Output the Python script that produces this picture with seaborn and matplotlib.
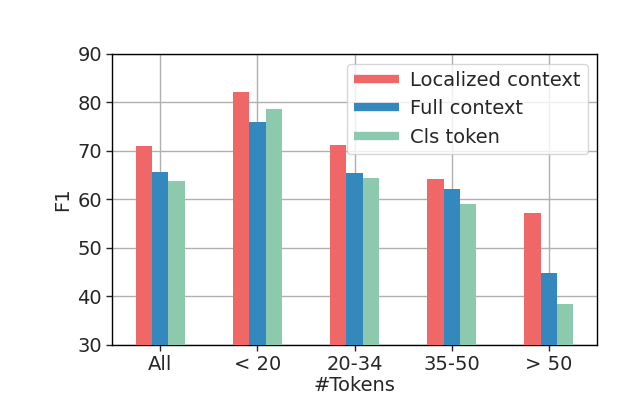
import matplotlib
matplotlib.use("Agg")
import matplotlib.pyplot as plt
from matplotlib.lines import Line2D
import seaborn as sns
import pandas as pd

categories = ["All", "< 20", "20-34", "35-50", "> 50"]
series_names = ["Localized context", "Full context", "Cls token"]
localized = [71.1, 82.2, 71.3, 64.3, 57.3]
full = [65.7, 76.0, 65.5, 62.2, 44.9]
cls_token = [63.9, 78.7, 64.5, 59.1, 38.5]
colors = ["#F06767", "#3388BD", "#8DC9AC"]

rows = []
for name, vals in zip(series_names, [localized, full, cls_token]):
    for c, v in zip(categories, vals):
        rows.append({"cat": c, "series": name, "F1": v})
df = pd.DataFrame(rows)

sns.set_style("white")
plt.rcParams["font.family"] = ["DejaVu Sans"]

fig = plt.figure(figsize=(6.32, 3.97), dpi=100)
ax = fig.add_axes([0.177, 0.131, 0.768, 0.733])
sns.barplot(data=df, x="cat", y="F1", hue="series", order=categories,
            hue_order=series_names, palette=colors, width=0.5, gap=0,
            saturation=1, linewidth=0, edgecolor="none", ax=ax, zorder=3,
            legend=False)
ax.set_ylim(30, 90)
ax.set_xlim(-0.5, 4.5)
ax.set_yticks([30, 40, 50, 60, 70, 80, 90])
ax.grid(True, color="#b0b0b0", linewidth=1, zorder=0)
ax.set_axisbelow(True)
ax.set_xlabel("#Tokens", fontsize=14, labelpad=2)
ax.set_ylabel("F1", fontsize=14)
ax.tick_params(axis="both", labelsize=14, length=4, width=1, direction="out",
               bottom=True, left=True, pad=3)
for s in ax.spines.values():
    s.set_color("black")
    s.set_linewidth(1)
handles = [Line2D([0], [0], color=c, lw=6, solid_capstyle="butt") for c in colors]
leg = ax.legend(handles, series_names, loc="upper right", fontsize=14,
                frameon=True, handlelength=2.3, borderaxespad=0.5,
                labelspacing=0.5, handletextpad=0.6, borderpad=0.35)
leg.get_frame().set_edgecolor("#cccccc")
fig.savefig("out.png", dpi=100)
